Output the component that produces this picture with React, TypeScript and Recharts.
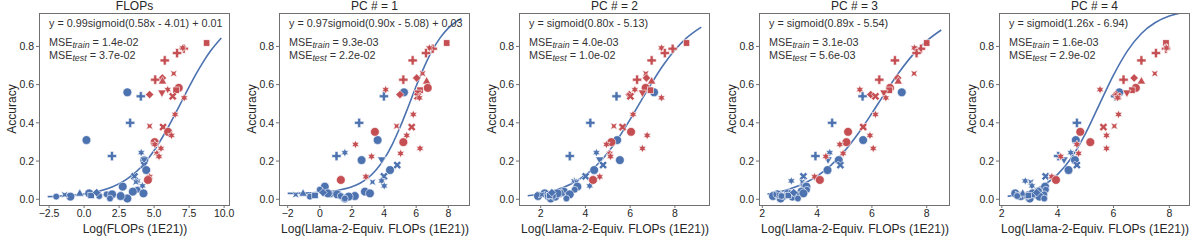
import React from 'react';
import { ComposedChart, Scatter, Line, XAxis, YAxis } from 'recharts';

const BLUE = '#4C72B0';
const RED = '#C44E52';
const TEXT = '#262626';
const FRAME = '#707070';

const panelTitles = ['FLOPs', 'PC # = 1', 'PC # = 2', 'PC # = 3', 'PC # = 4'];
const xTitles = [
  'Log(FLOPs (1E21))',
  'Log(Llama-2-Equiv. FLOPs (1E21))',
  'Log(Llama-2-Equiv. FLOPs (1E21))',
  'Log(Llama-2-Equiv. FLOPs (1E21))',
  'Log(Llama-2-Equiv. FLOPs (1E21))',
];
const fitLabels = [
  'y = 0.99sigmoid(0.58x - 4.01) + 0.01',
  'y = 0.97sigmoid(0.90x - 5.08) + 0.03',
  'y = sigmoid(0.80x - 5.13)',
  'y = sigmoid(0.89x - 5.54)',
  'y = sigmoid(1.26x - 6.94)',
];
const mseTrain = ['1.4e-02', '9.3e-03', '4.0e-03', '3.1e-03', '1.6e-03'];
const mseTest = ['3.7e-02', '2.2e-02', '1.0e-02', '5.6e-03', '2.9e-02'];

const xTicks = [
  [-2.5, 0, 2.5, 5, 7.5, 10],
  [-2, 0, 2, 4, 6, 8],
  [2, 4, 6, 8],
  [2, 4, 6, 8],
  [2, 4, 6, 8],
];
const xDomains = [
  [-3.22, 10.42],
  [-2.54, 9.35],
  [1.03, 9.57],
  [1.88, 8.85],
  [1.9, 8.74],
];
const yTicks = [0, 0.2, 0.4, 0.6, 0.8];
const yDomain = [-0.03, 0.975];

// one entry per model: train models (blue) first, then test models (red)
const group = [
  'train', 'train', 'train', 'train', 'train', 'train', 'train', 'train', 'train', 'train',
  'train', 'train', 'train', 'train', 'train', 'train', 'train', 'train', 'train', 'train',
  'train', 'train', 'train', 'train', 'train', 'train', 'train', 'train', 'train', 'train',
  'train',
  'test', 'test', 'test', 'test', 'test', 'test', 'test', 'test', 'test', 'test',
  'test', 'test', 'test', 'test', 'test', 'test', 'test', 'test', 'test', 'test',
  'test', 'test', 'test', 'test', 'test', 'test', 'test', 'test',
];
const marker = [
  'O', 'P', 'P', 'O', 'P', 'O', '*', 'v', 'X', 'O',
  'X', '*', 'x', '*', 'O', 'o', 'O', 'O', 'O', 'O',
  'o', 'O', 'o', 'O', 'x', '^', 'O', 'o', 's', 'o',
  'D',
  's', 'P', '*', 'P', 'P', 'x', 'D', 'P', '^', 'O',
  's', '*', 'v', 'D', 'X', '*', '*', 'x', 'X', 'O',
  '*', 'O', '*', '*', '*', '*', '*', 'O',
];
const accuracy = [
  0.56, 0.539, 0.4, 0.31, 0.226, 0.205, 0.244, 0.207, 0.179, 0.153,
  0.12, 0.096, 0.09, 0.07, 0.066, 0.05, 0.04, 0.031, 0.004, 0.017,
  0.026, 0.026, 0.014, 0.014, 0.024, 0.031, 0.031, 0.017, 0.02, 0.004,
  0.035,
  0.818, 0.788, 0.792, 0.765, 0.727, 0.658, 0.635, 0.626, 0.618, 0.583,
  0.571, 0.574, 0.557, 0.548, 0.539, 0.531, 0.444, 0.383, 0.378, 0.353,
  0.334, 0.299, 0.287, 0.266, 0.24, 0.224, 0.118, 0.101,
];

const xFlops = [
  3.09, 4.05, 3.29, 0.17, 1.99, 4.3, 4.08, 4.29, 4.29, 4.44,
  3.6, 3.81, 3.7, 4.17, 2.76, 3.81, 3.48, 4.24, 3.09, 2.61,
  1.61, 2.0, -1.99, -0.98, -1.39, -0.31, 0.36, 1.08, 0.5, 1.85,
  0.9,
  8.75, 7.12, 7.05, 6.64, 5.76, 6.4, 5.59, 5.08, 5.6, 6.76,
  6.57, 5.97, 5.56, 4.68, 6.33, 7.15, 6.5, 4.68, 5.64, 6.0,
  6.24, 5.04, 5.05, 5.49, 5.2, 5.35, 4.68, 4.56,
];
const xPc1 = [
  5.24, 3.99, 2.45, 3.6, 1.04, 2.6, 1.56, 3.85, 4.82, 4.37,
  3.99, 3.85, 3.28, 4.01, 0.31, 0.0, 2.81, 3.12, 1.56, 2.18,
  0.67, 1.08, -0.62, 1.8, -1.5, -1.04, 0.5, 1.3, -0.3, 1.56,
  0.2,
  7.9, 7.03, 6.82, 6.61, 5.78, 6.4, 6.03, 5.2, 6.65, 6.72,
  6.24, 4.1, 6.1, 4.99, 6.09, 6.2, 5.82, 4.78, 5.72, 3.43,
  5.41, 5.2, 2.22, 6.24, 5.03, 3.22, 2.87, 1.31,
];
const xPc2 = [
  7.07, 5.39, 4.22, 5.42, 3.3, 5.54, 4.49, 4.64, 4.79, 4.39,
  4.01, 3.5, 3.6, 4.19, 3.64, 3.52, 3.04, 2.18, 2.45, 1.88,
  2.85, 3.3, 2.3, 2.65, 2.05, 2.95, 2.75, 2.55, 2.4, 3.15,
  2.5,
  8.52, 7.9, 7.4, 7.55, 6.96, 6.7, 6.73, 6.31, 6.96, 6.69,
  6.91, 6.21, 6.55, 5.96, 6.01, 7.4, 6.13, 5.27, 5.66, 6.04,
  6.76, 5.16, 4.94, 6.55, 5.09, 5.12, 4.64, 4.34,
];
const xPc3 = [
  7.09, 5.66, 4.55, 5.68, 3.94, 4.79, 4.46, 4.4, 4.85, 4.38,
  3.5, 3.06, 3.46, 3.5, 3.61, 3.63, 3.43, 2.94, 2.67, 2.39,
  3.24, 2.55, 2.8, 3.1, 2.6, 3.0, 3.5, 2.7, 2.95, 3.3,
  3.15,
  8.0, 7.79, 7.55, 7.63, 6.84, 7.54, 6.94, 6.27, 6.96, 6.66,
  6.63, 5.56, 6.44, 5.96, 6.13, 6.51, 6.13, 5.71, 5.68, 5.13,
  5.93, 5.07, 4.83, 6.05, 4.95, 4.32, 3.91, 4.1,
];
const xPc4 = [
  6.21, 6.06, 4.69, 4.65, 4.02, 4.62, 4.47, 4.23, 4.69, 4.39,
  3.57, 2.84, 3.04, 3.08, 3.55, 3.58, 3.3, 2.48, 3.0, 2.68,
  3.52, 3.2, 2.9, 3.35, 2.6, 2.75, 3.1, 2.55, 2.95, 3.52,
  3.25,
  7.88, 7.88, 7.9, 7.52, 7.0, 7.48, 6.74, 6.36, 7.0, 6.8,
  6.66, 5.52, 6.48, 6.09, 6.15, 6.15, 6.18, 6.03, 5.64, 4.81,
  5.75, 5.17, 4.69, 5.75, 4.75, 4.11, 3.79, 3.94,
];
const panelX = [xFlops, xPc1, xPc2, xPc3, xPc4];

// fitted sigmoid curves
const fitX0 = [-2.6, -1, 0, 1, 2, 3, 3.5, 4, 4.5, 5, 5.5, 6, 6.5, 7, 7.5, 8, 8.5, 9, 9.8];
const fitY0 = [0.014, 0.02, 0.028, 0.041, 0.064, 0.103, 0.13, 0.164, 0.206, 0.255, 0.313, 0.377, 0.446, 0.517, 0.588, 0.656, 0.718, 0.773, 0.844];
const fitX1 = [-2, -1, 0, 1, 2, 2.5, 3, 3.5, 4, 4.5, 5, 5.5, 6, 6.5, 7, 7.5, 8, 8.81];
const fitY1 = [0.031, 0.032, 0.036, 0.045, 0.065, 0.084, 0.112, 0.153, 0.21, 0.285, 0.378, 0.483, 0.592, 0.693, 0.779, 0.846, 0.896, 0.946];
const fitX2 = [1.42, 2, 2.5, 3, 3.5, 4, 4.5, 5, 5.5, 6, 6.5, 7, 7.5, 8, 8.5, 9.18];
const fitY2 = [0.018, 0.029, 0.042, 0.061, 0.089, 0.127, 0.178, 0.244, 0.325, 0.418, 0.518, 0.615, 0.705, 0.781, 0.842, 0.901];
const fitX3 = [2.19, 2.5, 3, 3.5, 4, 4.5, 5, 5.5, 6, 6.5, 7, 7.5, 8, 8.53];
const fitY3 = [0.027, 0.035, 0.054, 0.081, 0.121, 0.177, 0.252, 0.344, 0.45, 0.561, 0.666, 0.757, 0.829, 0.886];
const fitX4 = [2.21, 2.5, 3, 3.5, 4, 4.5, 5, 5.5, 6, 6.5, 7, 7.5, 8, 8.3, 8.6];
const fitY4 = [0.015, 0.022, 0.041, 0.074, 0.13, 0.219, 0.345, 0.498, 0.65, 0.777, 0.868, 0.925, 0.959, 0.971, 0.98];
const fitXs = [fitX0, fitX1, fitX2, fitX3, fitX4];
const fitYs = [fitY0, fitY1, fitY2, fitY3, fitY4];

type Pt = [number, number];

const rotate = (p: Pt[], deg: number): Pt[] => {
  const a = (deg * Math.PI) / 180;
  return p.map(([x, y]) => [x * Math.cos(a) - y * Math.sin(a), x * Math.sin(a) + y * Math.cos(a)]);
};
const starShape = (n: number, ro: number, ri: number, deg: number): Pt[] => {
  const out: Pt[] = [];
  for (let k = 0; k < n * 2; k++) {
    const r = k % 2 === 0 ? ro : ri;
    const a = ((deg + (k * 180) / n - 90) * Math.PI) / 180;
    out.push([r * Math.cos(a), r * Math.sin(a)]);
  }
  return out;
};
const PLUS: Pt[] = [
  [-1.5, -4.6], [1.5, -4.6], [1.5, -1.5], [4.6, -1.5], [4.6, 1.5], [1.5, 1.5],
  [1.5, 4.6], [-1.5, 4.6], [-1.5, 1.5], [-4.6, 1.5], [-4.6, -1.5], [-1.5, -1.5],
];
const CROSS = rotate(PLUS.map(([x, y]) => [x * 0.95, y * 0.95] as Pt), 45);
const STAR = starShape(6, 4.3, 2.2, 0);
const XSTAR = starShape(4, 4.8, 1.8, 45);

function ModelMarker(props: any) {
  const { cx, cy, payload } = props;
  if (cx == null || cy == null || !payload) return null;
  const fill = payload.group === 'test' ? RED : BLUE;
  const base = { fill, stroke: '#ffffff', strokeWidth: 0.6 };
  const at = (p: Pt[]) => p.map(([dx, dy]) => `${cx + dx},${cy + dy}`).join(' ');
  switch (payload.marker) {
    case 'O':
      return <circle cx={cx} cy={cy} r={4.4} {...base} />;
    case 'o':
      return <circle cx={cx} cy={cy} r={3.4} {...base} />;
    case 's':
      return <rect x={cx - 3.2} y={cy - 3.2} width={6.4} height={6.4} {...base} />;
    case 'D':
      return <polygon points={at([[0, -4.2], [4.2, 0], [0, 4.2], [-4.2, 0]])} {...base} />;
    case '^':
      return <polygon points={at([[0, -4.6], [4.2, 2.8], [-4.2, 2.8]])} {...base} />;
    case 'v':
      return <polygon points={at([[0, 4.6], [4.2, -2.8], [-4.2, -2.8]])} {...base} />;
    case 'P':
      return <polygon points={at(PLUS)} {...base} />;
    case 'X':
      return <polygon points={at(CROSS)} {...base} />;
    case 'x':
      return <polygon points={at(XSTAR)} {...base} />;
    default:
      return <polygon points={at(STAR)} {...base} />;
  }
}

const fmtTick = (i: number) => (v: number) => {
  const s = i === 0 ? v.toFixed(1) : String(v);
  return s.replace('-', '\u2212');
};

function Panel({ i }: { i: number }) {
  const xs = panelX[i];
  const points = accuracy.map((y, k) => ({ x: xs[k], y, marker: marker[k], group: group[k] }));
  const fit = fitXs[i].map((x, k) => ({ x, y: fitYs[i][k] }));
  return (
    <div style={{ position: 'absolute', left: 240 * i, top: 0, width: 240, height: 242 }}>
      <ComposedChart width={240} height={242} margin={{ top: 13, right: 10, left: 0, bottom: 0 }}>
        <XAxis
          type="number"
          dataKey="x"
          domain={xDomains[i]}
          ticks={xTicks[i]}
          interval={0}
          allowDataOverflow
          height={37}
          axisLine={false}
          tickSize={3}
          tickLine={{ stroke: FRAME }}
          tick={{ fill: TEXT, fontSize: 10.5 }}
          tickFormatter={fmtTick(i)}
        />
        <YAxis
          type="number"
          dataKey="y"
          domain={yDomain}
          ticks={yTicks}
          interval={0}
          allowDataOverflow
          width={39}
          axisLine={false}
          tickSize={3}
          tickLine={{ stroke: FRAME }}
          tick={{ fill: TEXT, fontSize: 10.5 }}
          tickFormatter={(v: number) => v.toFixed(1)}
        />
        <Scatter data={points} dataKey="y" shape={(p: any) => <ModelMarker {...p} />} isAnimationActive={false} />
        <Line
          data={fit}
          dataKey="y"
          type="monotone"
          stroke={BLUE}
          strokeWidth={1.6}
          dot={false}
          activeDot={false}
          isAnimationActive={false}
        />
      </ComposedChart>
      <div
        style={{
          position: 'absolute', left: 39, top: 13, width: 191, height: 193,
          border: `1px solid ${FRAME}`, boxSizing: 'border-box', pointerEvents: 'none',
        }}
      />
      <div style={{ position: 'absolute', left: 39, width: 191, top: 0, textAlign: 'center', fontSize: 12, lineHeight: '12px' }}>
        {panelTitles[i]}
      </div>
      <div style={{ position: 'absolute', left: 0, width: 270, top: 222, textAlign: 'center', fontSize: 12, lineHeight: '14px' }}>
        {xTitles[i]}
      </div>
      <div
        style={{
          position: 'absolute', left: 12, top: 109, fontSize: 12, lineHeight: '14px',
          transform: 'translate(-50%, -50%) rotate(-90deg)', whiteSpace: 'nowrap',
        }}
      >
        Accuracy
      </div>
      <div style={{ position: 'absolute', left: 49, top: 17, fontSize: 10.8, lineHeight: '13px', color: '#333', whiteSpace: 'nowrap' }}>
        {fitLabels[i]}
      </div>
      <div style={{ position: 'absolute', left: 49, top: 37, fontSize: 10.8, lineHeight: '11.5px', color: '#333', whiteSpace: 'nowrap' }}>
        <div>
          MSE<i style={{ fontSize: '0.82em', position: 'relative', top: 2 }}>train</i> = {mseTrain[i]}
        </div>
        <div>
          MSE<i style={{ fontSize: '0.82em', position: 'relative', top: 2 }}>test</i> = {mseTest[i]}
        </div>
      </div>
    </div>
  );
}

export default function App() {
  return (
    <div
      style={{
        position: 'absolute', left: 0, top: 0, width: 1196, height: 242, overflow: 'hidden',
        background: '#ffffff', color: TEXT, fontFamily: '"Liberation Sans", Arial, sans-serif',
      }}
    >
      {[0, 1, 2, 3, 4].map((i) => (
        <Panel key={i} i={i} />
      ))}
    </div>
  );
}
